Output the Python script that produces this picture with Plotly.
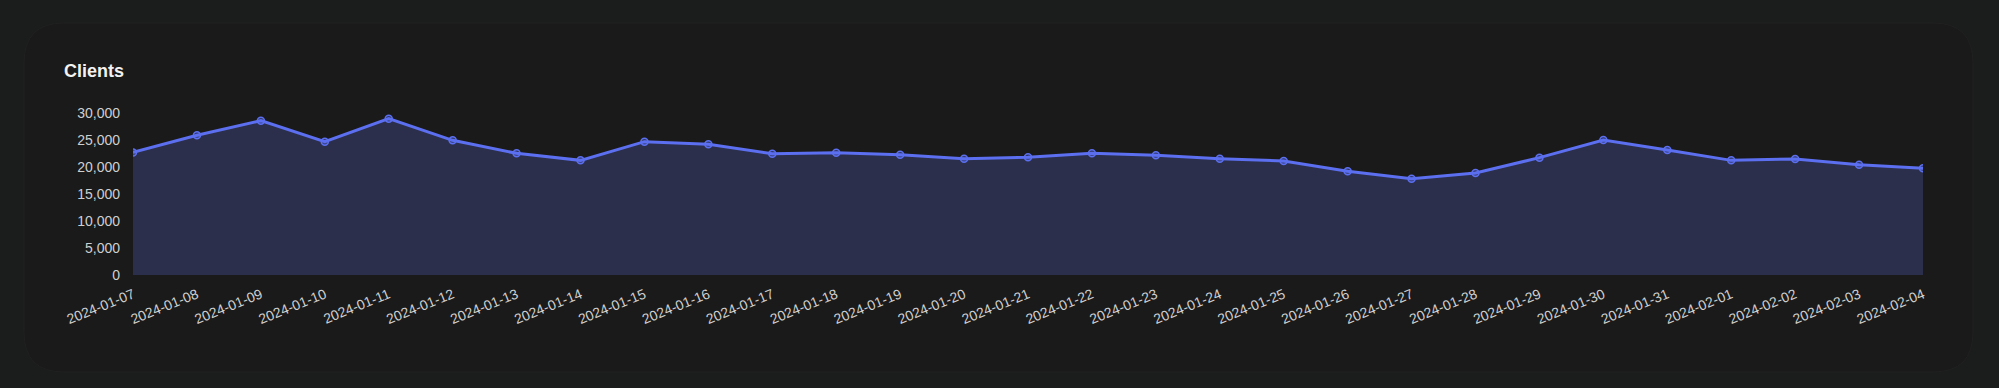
import plotly.graph_objects as go

dates = ["2024-01-07", "2024-01-08", "2024-01-09", "2024-01-10", "2024-01-11",
         "2024-01-12", "2024-01-13", "2024-01-14", "2024-01-15", "2024-01-16",
         "2024-01-17", "2024-01-18", "2024-01-19", "2024-01-20", "2024-01-21",
         "2024-01-22", "2024-01-23", "2024-01-24", "2024-01-25", "2024-01-26",
         "2024-01-27", "2024-01-28", "2024-01-29", "2024-01-30", "2024-01-31",
         "2024-02-01", "2024-02-02", "2024-02-03", "2024-02-04"]
clients = [22700, 25870, 28580, 24690, 28950,
           24940, 22530, 21230, 24690, 24200,
           22470, 22650, 22280, 21540, 21790,
           22530, 22160, 21540, 21110, 19200,
           17840, 18890, 21730, 25000, 23150,
           21230, 21480, 20430, 19750]
y_ticks = [0, 5000, 10000, 15000, 20000, 25000, 30000]
title_text = "Clients"

W, H = 1999, 388
L, R, T, B = 133, 76, 113, 113
pw, ph = W - L - R, H - T - B


def px(x):
    return (x - L) / pw


def py(y):
    return (H - B - y) / ph


# rounded card path in paper coordinates
x0, y0, x1, y1, r = 24, 23, 1973, 372, 40
path = (
    f"M {px(x0 + r)},{py(y0)} L {px(x1 - r)},{py(y0)} "
    f"Q {px(x1)},{py(y0)} {px(x1)},{py(y0 + r)} "
    f"L {px(x1)},{py(y1 - r)} Q {px(x1)},{py(y1)} {px(x1 - r)},{py(y1)} "
    f"L {px(x0 + r)},{py(y1)} Q {px(x0)},{py(y1)} {px(x0)},{py(y1 - r)} "
    f"L {px(x0)},{py(y0 + r)} Q {px(x0)},{py(y0)} {px(x0 + r)},{py(y0)} Z"
)

fig = go.Figure()
fig.add_trace(go.Scatter(
    x=dates, y=clients, mode="lines+markers",
    fill="tozeroy", fillcolor="#2b2f4b",
    line=dict(color="#5b6ff0", width=3),
    marker=dict(size=7, color="rgba(91,111,240,0.35)",
                line=dict(color="#5b6ff0", width=1.5)),
    hoverinfo="x+y", showlegend=False,
))

fig.update_layout(
    width=W, height=H,
    margin=dict(l=L, r=R, t=T, b=B),
    paper_bgcolor="#1b1c1c",
    plot_bgcolor="rgba(0,0,0,0)",
    font=dict(family="Liberation Sans, Arial, sans-serif", color="#cfcfcf", size=14),
    shapes=[dict(type="path", path=path, xref="paper", yref="paper",
                 fillcolor="#1a1a1a", line=dict(color="#202020", width=1),
                 layer="below")],
    annotations=[dict(text="<b>" + title_text + "</b>", xref="paper", yref="paper",
                      x=px(62), y=py(71), xanchor="left", yanchor="middle",
                      showarrow=False,
                      font=dict(size=18, color="#f2f2f2",
                                family="Liberation Sans, Arial, sans-serif"))],
)
fig.update_xaxes(type="category", range=[0, len(dates) - 1],
                 showgrid=False, zeroline=False, showline=False,
                 tickangle=-22, ticks="", ticklabelstandoff=8,
                 tickfont=dict(size=14, color="#cfcfcf"))
fig.update_yaxes(range=[0, 30000], tickvals=y_ticks, tickformat=",",
                 showgrid=False, zeroline=False, showline=False,
                 ticks="", ticklabelstandoff=12,
                 tickfont=dict(size=14, color="#cfcfcf"))

fig.write_html(
    "out.html",
    config={"displayModeBar": False},
    post_script="document.body.style.margin='0';"
                "document.body.style.background='#1b1c1c';",
)
